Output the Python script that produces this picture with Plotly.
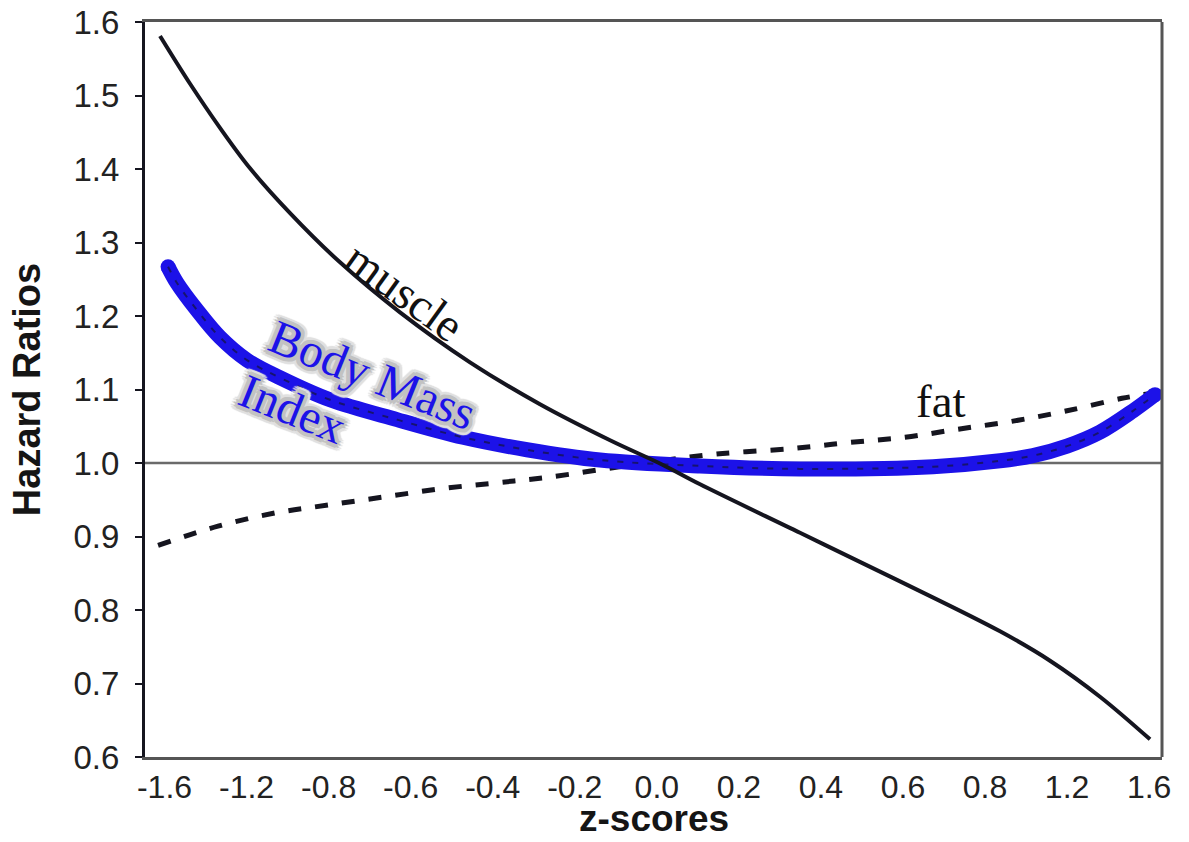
import plotly.graph_objects as go

# x positions are in "tick slot" units: slot i sits under tick label i
tick_labels = ["-1.6", "-1.2", "-0.8", "-0.6", "-0.4", "-0.2", "0.0",
               "0.2", "0.4", "0.6", "0.8", "1.2", "1.6"]
tick_slots = list(range(len(tick_labels)))

y_ticks = [0.6, 0.7, 0.8, 0.9, 1.0, 1.1, 1.2, 1.3, 1.4, 1.5, 1.6]
y_tick_text = ["0.6", "0.7", "0.8", "0.9", "1.0", "1.1", "1.2", "1.3", "1.4", "1.5", "1.6"]

muscle_x = [-0.055, 0.311, 0.676, 1.042, 1.530, 2.139, 2.870, 3.723, 4.576,
            5.430, 6.063, 6.527, 7.745, 8.964, 10.183, 10.792, 11.401, 12.011]
muscle_y = [1.581, 1.516, 1.456, 1.401, 1.340, 1.273, 1.205, 1.137, 1.080,
            1.031, 0.998, 0.971, 0.905, 0.839, 0.771, 0.731, 0.682, 0.624]

fat_x = [-0.079, 0.652, 1.347, 2.005, 2.687, 3.370, 4.040, 4.698, 5.795,
         6.709, 7.684, 8.355, 9.025, 9.671, 10.342, 10.999, 11.669, 11.986]
fat_y = [0.888, 0.914, 0.932, 0.943, 0.954, 0.965, 0.973, 0.981, 0.999,
         1.012, 1.020, 1.028, 1.035, 1.046, 1.057, 1.071, 1.088, 1.094]

bmi_x = [0.043, 0.152, 0.396, 0.676, 1.005, 1.408, 2.017, 2.834, 3.638,
         4.418, 5.308, 6.527, 7.745, 9.366, 10.183, 10.585, 10.999, 11.401,
         11.804, 12.072]
bmi_y = [1.267, 1.245, 1.208, 1.171, 1.140, 1.116, 1.086, 1.059, 1.035,
         1.018, 1.004, 0.996, 0.992, 0.995, 1.003, 1.010, 1.023, 1.042,
         1.071, 1.093]

BLUE = "#1c12e8"
INK = "#15151f"

fig = go.Figure()

fig.add_trace(go.Scatter(x=fat_x, y=fat_y, mode="lines",
                         line=dict(color=INK, width=5, dash="13px,14px", shape="spline"),
                         showlegend=False, hoverinfo="skip"))
fig.add_trace(go.Scatter(x=bmi_x, y=bmi_y, mode="lines",
                         line=dict(color=BLUE, width=15, shape="spline"),
                         showlegend=False, hoverinfo="skip"))
fig.add_trace(go.Scatter(x=[bmi_x[0], bmi_x[-1]], y=[bmi_y[0], bmi_y[-1]], mode="markers",
                         marker=dict(color=BLUE, size=15),
                         showlegend=False, hoverinfo="skip"))
fig.add_trace(go.Scatter(x=bmi_x, y=bmi_y, mode="lines",
                         line=dict(color=INK, width=2, dash="6px,9px", shape="spline"),
                         opacity=0.6, showlegend=False, hoverinfo="skip"))
fig.add_trace(go.Scatter(x=muscle_x, y=muscle_y, mode="lines",
                         line=dict(color=INK, width=4, shape="spline"),
                         showlegend=False, hoverinfo="skip"))

# reference line at hazard ratio 1.0
fig.add_shape(type="line", xref="paper", x0=0, x1=1, yref="y", y0=1.0, y1=1.0,
              line=dict(color="#6a6a6a", width=2.5), layer="below")
# right border (gray)
fig.add_shape(type="line", xref="paper", x0=1, x1=1, yref="paper", y0=0, y1=1,
              line=dict(color="#555555", width=3))

serif = "Liberation Serif, Times New Roman, serif"
g1, g2 = "#c2c2c2", "#e0e0e0"
offs1 = [(1, 0), (-1, 0), (0, 1), (0, -1), (2, 0), (-2, 0), (0, 2), (0, -2),
         (2, 2), (-2, -2), (2, -2), (-2, 2), (3, 0), (-3, 0), (0, 3), (0, -3),
         (3, 3), (-3, -3), (3, -3), (-3, 3), (4, 0), (-4, 0), (0, 4), (0, -4)]
offs2 = [(6, 0), (-6, 0), (0, 6), (0, -6), (5, 5), (-5, -5), (5, -5), (-5, 5),
         (6, 3), (-6, -3), (3, 6), (-3, -6), (6, -3), (-6, 3), (3, -6), (-3, 6)]
halo = ", ".join([f"{a}px {b}px 0 {g1}" for a, b in offs1] +
                 [f"{a}px {b}px 1px {g2}" for a, b in offs2])

fig.add_annotation(x=2.93, y=1.233, text="muscle", showarrow=False, textangle=36,
                   font=dict(family=serif, size=47, color="#111111"))
fig.add_annotation(x=9.46, y=1.084, text="fat", showarrow=False,
                   font=dict(family=serif, size=47, color="#111111"))
fig.add_annotation(x=2.53, y=1.120, text="Body Mass", showarrow=False, textangle=22,
                   font=dict(family=serif, size=48, color=BLUE, shadow=halo))
fig.add_annotation(x=1.556, y=1.074, text="Index", showarrow=False, textangle=22,
                   font=dict(family=serif, size=48, color=BLUE, shadow=halo))

sans = "Liberation Sans, Arial, sans-serif"
# x-axis title as a paper annotation (axis automargin is off)
fig.add_annotation(x=0.5, y=-0.1135, xref="paper", yref="paper", showarrow=False,
                   text="<b>z-scores</b>", xanchor="center", yanchor="bottom",
                   borderpad=0,
                   font=dict(family=sans, size=37, color="#151515"))

fig.update_layout(
    width=1189, height=842,
    margin=dict(l=145, r=27, t=22, b=85),
    paper_bgcolor="white", plot_bgcolor="white",
    xaxis=dict(range=[-0.238, 12.157], tickmode="array", tickvals=tick_slots,
               ticktext=tick_labels, showgrid=False, zeroline=False,
               showline=True, linecolor="#555555", linewidth=3, mirror=True,
               ticks="", ticklabelstandoff=0, automargin=False,
               tickfont=dict(family=sans, size=32, color="#222222")),
    yaxis=dict(range=[0.6, 1.6], tickmode="array",
               tickvals=y_ticks, ticktext=y_tick_text,
               showgrid=False, zeroline=False,
               showline=True, linecolor=INK, linewidth=3,
               ticks="outside", ticklen=7, tickwidth=2, tickcolor=INK,
               ticklabelstandoff=9, automargin=False,
               tickfont=dict(family=sans, size=33, color="#222222"),
               title=dict(text="<b>Hazard Ratios</b>", standoff=22,
                          font=dict(family=sans, size=38, color="#151515"))),
)

fig.write_html("out.html")
